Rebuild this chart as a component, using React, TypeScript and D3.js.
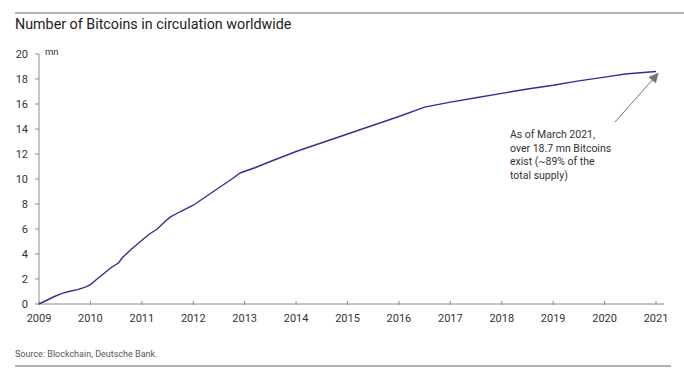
import React from "react";
import * as d3 from "d3";

const years: number[] = [
  2009.0, 2009.15, 2009.3, 2009.45, 2009.6, 2009.75, 2009.9, 2010.0, 2010.1, 2010.25,
  2010.4, 2010.55, 2010.62, 2010.8, 2011.0, 2011.15, 2011.3, 2011.45, 2011.55, 2011.75,
  2012.0, 2012.25, 2012.5, 2012.75, 2012.92, 2013.2, 2013.5, 2014.0, 2014.5, 2015.0,
  2015.5, 2016.0, 2016.5, 2017.0, 2017.5, 2018.0, 2018.5, 2019.0, 2019.5, 2020.0,
  2020.4, 2021.0,
];
const coins: number[] = [
  0, 0.3, 0.6, 0.85, 1.02, 1.15, 1.35, 1.55, 1.9, 2.4,
  2.9, 3.3, 3.7, 4.4, 5.1, 5.6, 6.0, 6.6, 6.95, 7.4,
  7.9, 8.6, 9.3, 10.0, 10.5, 10.9, 11.4, 12.2, 12.9, 13.6,
  14.3, 15.0, 15.75, 16.15, 16.5, 16.85, 17.2, 17.5, 17.85, 18.15,
  18.4, 18.6,
];
const xTicks: number[] = [2009, 2010, 2011, 2012, 2013, 2014, 2015, 2016, 2017, 2018, 2019, 2020, 2021];
const yTicks: number[] = [0, 2, 4, 6, 8, 10, 12, 14, 16, 18, 20];
const title = "Number of Bitcoins in circulation worldwide";
const unit = "mn";
const source = "Source: Blockchain, Deutsche Bank.";
const note: string[] = ["As of March 2021,", "over 18.7 mn Bitcoins", "exist (~89% of the", "total supply)"];

export default function App() {
  const W = 684, H = 382;
  const x = d3.scaleLinear().domain([2009, 2021]).range([39, 656]);
  const y = d3.scaleLinear().domain([0, 20]).range([304, 54]);
  const pts = years.map((yr, i) => [yr, coins[i]] as [number, number]);
  const line = d3.line<[number, number]>().x(d => x(d[0])).y(d => y(d[1]));
  const font = "Roboto, 'Liberation Sans', Arial, sans-serif";
  const axisColor = "#8c8c8c";
  const textColor = "#333";
  const lastX = x(years[years.length - 1]);
  const lastY = y(coins[coins.length - 1]);
  return (
    <svg width={W} height={H} style={{ position: "absolute", left: 0, top: 0 }} fontFamily={font}>
      <defs>
        <marker id="arr" viewBox="0 0 10 10" refX="9" refY="5" markerWidth="10" markerHeight="10" orient="auto">
          <path d="M0,0 L10,5 L0,10 z" fill="#777" />
        </marker>
      </defs>
      <rect width={W} height={H} fill="#fff" />
      <line x1={15} x2={684} y1={13} y2={13} stroke="#999" strokeWidth={1.5} />
      <text x={15} y={29} fontSize={14.3} fill="#222">{title}</text>
      {yTicks.map(t => (
        <g key={t}>
          <line x1={35} x2={39} y1={y(t)} y2={y(t)} stroke={axisColor} />
          <text x={28} y={y(t)} dy="0.35em" fontSize={11} textAnchor="end" fill={textColor}>{t}</text>
        </g>
      ))}
      <text x={45} y={y(20) + 1} fontSize={9.5} fill={textColor}>{unit}</text>
      <line x1={39} x2={39} y1={y(20)} y2={y(0)} stroke={axisColor} />
      <line x1={39} x2={664} y1={y(0)} y2={y(0)} stroke={axisColor} />
      {xTicks.map(t => (
        <g key={t}>
          <line x1={x(t)} x2={x(t)} y1={y(0) - 3} y2={y(0) + 1} stroke={axisColor} />
          <text x={x(t)} y={y(0) + 18} fontSize={11} textAnchor="middle" fill={textColor}>{t}</text>
        </g>
      ))}
      <path d={line(pts) || ""} fill="none" stroke="#2e3192" strokeWidth={1.4} />
      <line x1={615} y1={122} x2={lastX + 2} y2={lastY + 2} stroke="#777" strokeWidth={1} markerEnd="url(#arr)" />
      {note.map((s, i) => (
        <text key={i} x={510} y={138 + i * 13.5} fontSize={10.5} fill={textColor}>{s}</text>
      ))}
      <text x={15} y={357} fontSize={9} fill="#555">{source}</text>
      <line x1={15} x2={671} y1={366} y2={366} stroke="#999" strokeWidth={1.5} />
    </svg>
  );
}
